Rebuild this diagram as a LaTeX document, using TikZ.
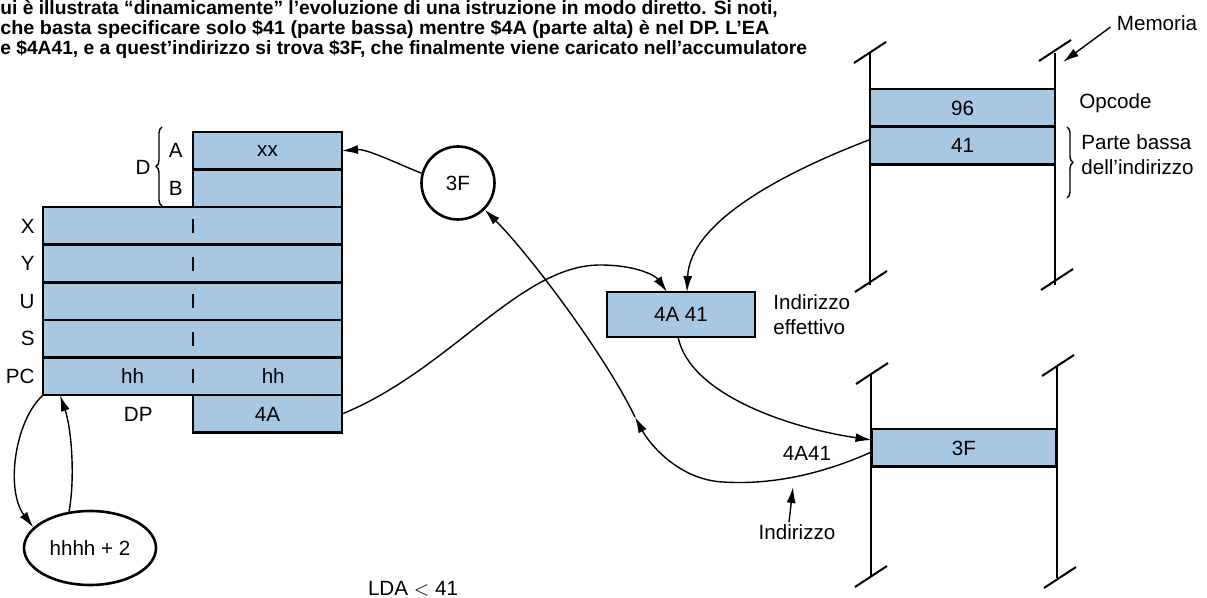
\documentclass[tikz,border=0pt]{standalone}
\usepackage{fontspec}
\setmainfont{Liberation Sans}
\usepackage{tikz}
\usetikzlibrary{arrows.meta,positioning,calc,shapes.geometric,decorations.pathreplacing}
\definecolor{regblue}{RGB}{168,199,225}

\begin{document}
\begin{tikzpicture}[x=0.5pt,y=-0.5pt,every node/.style={font=\fontsize{10.3}{12.5}\selectfont,align=center,inner sep=1pt},reg/.style={draw,line width=1.3pt,fill=regblue,minimum width=74.5pt,minimum height=18.8pt,outer sep=0pt},wide/.style={reg,minimum width=149.5pt},cell/.style={draw,line width=1.3pt,fill=regblue,minimum width=92.5pt,minimum height=18.8pt,outer sep=0pt},arrow/.style={-{Latex[length=8pt,width=4.5pt]},line width=0.7pt},rail/.style={line width=1.4pt},slash/.style={line width=1pt},tick/.style={line width=1pt},curly/.style={decorate,decoration={brace,amplitude=3pt},line width=0.7pt}]
\useasboundingbox (0,0) rectangle (1207,598);
\clip (0,0) rectangle (1207,598);
\fill[white] (0,0) rectangle (1207,598);
% caption
\begin{scope}[every node/.style={font=\fontsize{9.6}{11}\selectfont\bfseries,inner sep=0pt,anchor=base west}]
\node (capa) at (0,15) {ui è illustrata “dinamicamente” l’evoluzione di una istruzione in modo diretto. Si noti,};
\node[xscale=1.03] (capb) at (0,35) {che basta specificare solo \$41 (parte bassa) mentre \$4A (parte alta) è nel DP. L’EA};
\node (capc) at (0,55) {e \$4A41, e a quest’indirizzo si trova \$3F, che finalmente viene caricato nell’accumulatore};
\end{scope}
% registers
\node[reg] (rega) at (267.5,150.8) {xx};
\node[reg,below=0pt of rega] (regb) {};
\node[wide,below=0pt of regb.south east,anchor=north east] (regx) {};
\node[wide,below=0pt of regx] (regy) {};
\node[wide,below=0pt of regy] (regu) {};
\node[wide,below=0pt of regu] (regs) {};
\node[wide,below=0pt of regs] (regpc) {};
\node[reg,below=0pt of regpc.south east,anchor=north east] (regdp) {4A};
\foreach \r in {regx,regy,regu,regs,regpc}
  \draw[tick] ([yshift=-3.5pt]\r.center) -- ([yshift=3.5pt]\r.center);
\foreach \r/\t in {regx/X,regy/Y,regu/U,regs/S,regpc/PC}
  \node[left=3pt of \r] (l\r) {\t};
\node (pchi) at ($(regpc.west)!0.30!(regpc.east)$) {hh};
\node (pclo) at ($(regpc.west)!0.77!(regpc.east)$) {hh};
\node[left=19pt of regdp] (ldp) {DP};
\node[left=4pt of rega] (lrega) {A};
\node[left=4pt of regb] (lregb) {B};
\draw[curly] (162,206) -- (162,127);
\node (ld) at (143,167) {D};
% value and effective address
\node[circle,draw,line width=1.3pt,minimum size=36.5pt,inner sep=0pt] (val) at (458,183) {3F};
\node[reg,minimum width=74pt,minimum height=22.5pt] (ea) at (681,314.5) {4A 41};
\node[right=8pt of ea,align=left] (lea) {Indirizzo\\effettivo};
\node[ellipse,draw,line width=1.3pt,minimum width=66pt,minimum height=37pt,inner sep=0pt] (pcinc) at (90,548) {hhhh + 2};
% memory, program part
\draw[rail] (870,53) -- (870,285);
\draw[rail] (1055,53) -- (1055,285);
\foreach \p in {(870,53),(1055,51),(871,282),(1057,280)}
  \draw[slash] \p ++(-16,10) -- ++(32,-21);
\node[cell] (mop) at (962.5,108) {96};
\node[cell,below=0pt of mop] (mlo) {41};
\node[anchor=west] (lop) at (1077,103) {Opcode};
\draw[curly] (1067,127) -- (1067,198);
\node[anchor=west,align=left] (llo) at (1079,155) {Parte bassa\\dell’indirizzo};
\node (lmem) at (1157,23) {Memoria};
\coordinate (memtip) at (1063,62);
\draw[arrow] ([xshift=-2pt,yshift=-2pt]lmem.west) -- (memtip);
% memory, data part
\draw[rail] (871,374) -- (871,577);
\draw[rail] (1057,367) -- (1057,578);
\foreach \p in {(872,374),(1058,366),(871,577),(1060,578)}
  \draw[slash] \p ++(-16,10) -- ++(32,-21);
\node[cell] (mval) at (964,448) {3F};
\node (laddr) at (807,453) {4A41};
\node (lind) at (797,532) {Indirizzo};
\coordinate (indtip) at (793,487);
\draw[arrow] ([xshift=-4pt]lind.north) -- (indtip);
\node[anchor=base] (llda) at (413,596) {LDA $<$ 41};
% data paths
\draw[arrow] (val.165) .. controls +(-25,-10) and +(25,-2) .. (rega.east);
\draw[arrow] (regdp.east) .. controls (450,370) and (520,265) .. (600,265) .. controls (635,265) and (655,275) .. ([xshift=-7pt]ea.north);
\draw[arrow] ([yshift=3pt]mlo.west) .. controls (790,170) and (690,220) .. ([xshift=3pt]ea.north);
\draw[arrow] ([xshift=-1.5pt]ea.south) .. controls (690,395) and (790,428) .. ([yshift=4pt]mval.west);
\coordinate (upturn) at (635,417);
\draw[arrow] ([yshift=-2pt]mval.west) .. controls (820,475) and (770,485) .. (723,482) .. controls (680,480) and (650,445) .. (upturn);
\draw[arrow] (upturn) .. controls (605,355) and (530,255) .. (val.-45);
% program counter update
\draw[arrow] (regpc.south west) .. controls (15,420) and (5,490) .. (pcinc.160);
\draw[arrow] (pcinc.120) .. controls (75,480) and (72,430) .. ([xshift=8.5pt]regpc.south west);
\end{tikzpicture}
\end{document}
